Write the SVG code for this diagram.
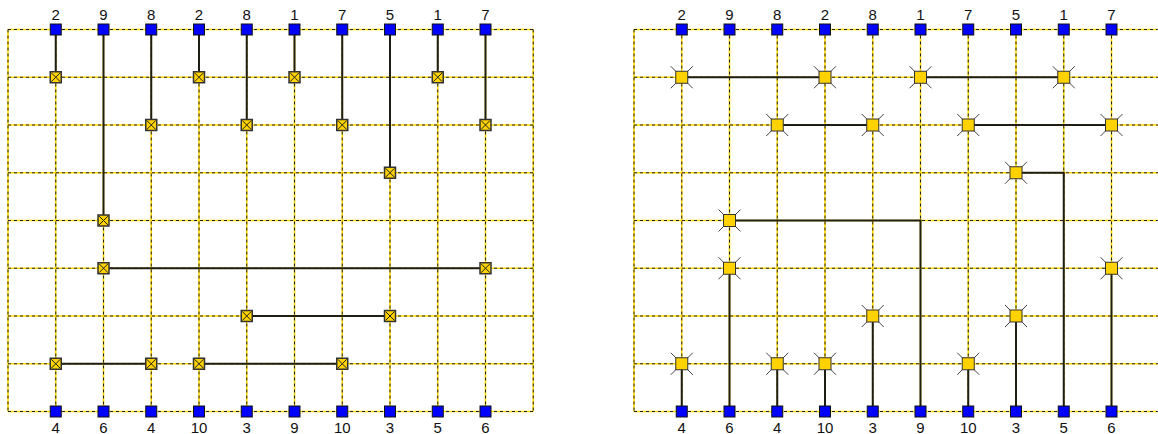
<svg xmlns="http://www.w3.org/2000/svg" xmlns:xlink="http://www.w3.org/1999/xlink" width="1158" height="434" viewBox="0 0 1158 434">
<style>
.gy{fill:none;stroke:#ffd700;stroke-width:1.6}
.gd{fill:none;stroke:#222;stroke-width:1;stroke-dasharray:3 3}
.w{fill:none;stroke:#1e1e14;stroke-width:2}
.pin{fill:#0000ff;stroke:#111;stroke-width:1}
.nb{fill:#ffd200;stroke:#333;stroke-width:1.5}
.nx{stroke:#222;stroke-width:1}
.ns{stroke:#444;stroke-width:1}
.lbl{font-family:"Liberation Sans",Arial,sans-serif;font-size:15px;fill:#111;text-anchor:middle}
</style>
<defs>
<path id="gridL" d="M8 29.5V411.5M55.75 29.5V411.5M103.5 29.5V411.5M151.25 29.5V411.5M199 29.5V411.5M246.75 29.5V411.5M294.5 29.5V411.5M342.25 29.5V411.5M390 29.5V411.5M437.75 29.5V411.5M485.5 29.5V411.5M533.25 29.5V411.5M8 29.5H533.25M8 77.25H533.25M8 125H533.25M8 172.75H533.25M8 220.5H533.25M8 268.25H533.25M8 316H533.25M8 363.75H533.25M8 411.5H533.25"/>
<g id="pin"><rect class="pin" x="-5.5" y="-5.5" width="11" height="11"/></g>
<g id="xn"><rect class="nb" x="-5.5" y="-5.5" width="11" height="11"/><path class="nx" d="M-4.5 -4.5L4.5 4.5M4.5 -4.5L-4.5 4.5"/></g>
<g id="sn"><path class="ns" d="M-11 -11L11 11M11 -11L-11 11"/><rect class="nb" x="-6" y="-6" width="12" height="12" style="stroke-width:1"/></g>
</defs>

<g id="grid">
<use xlink:href="#gridL" class="gy"/>
<use xlink:href="#gridL" class="gd"/>
<use xlink:href="#gridL" class="gy" transform="translate(626 0)"/>
<use xlink:href="#gridL" class="gd" transform="translate(626 0)"/>
</g>

<g id="connectors">
<path class="w" d="M55.75 29.5V77.25"/>
<path class="w" d="M103.5 29.5V220.5"/>
<path class="w" d="M151.25 29.5V125"/>
<path class="w" d="M199 29.5V77.25"/>
<path class="w" d="M246.75 29.5V125"/>
<path class="w" d="M294.5 29.5V77.25"/>
<path class="w" d="M342.25 29.5V125"/>
<path class="w" d="M390 29.5V172.75"/>
<path class="w" d="M437.75 29.5V77.25"/>
<path class="w" d="M485.5 29.5V125"/>
<path class="w" d="M103.5 268.25H485.5"/>
<path class="w" d="M246.75 316H390"/>
<path class="w" d="M55.75 363.75H151.25"/>
<path class="w" d="M199 363.75H342.25"/>
<path class="w" d="M681.75 77.25H825"/>
<path class="w" d="M920.5 77.25H1063.75"/>
<path class="w" d="M777.25 125H872.75"/>
<path class="w" d="M968.25 125H1111.5"/>
<path class="w" d="M1016 172.75H1063.75V411.5"/>
<path class="w" d="M729.5 220.5H920.5V411.5"/>
<path class="w" d="M729.5 268.25V411.5"/>
<path class="w" d="M1111.5 268.25V411.5"/>
<path class="w" d="M872.75 316V411.5"/>
<path class="w" d="M1016 316V411.5"/>
<path class="w" d="M681.75 363.75V411.5"/>
<path class="w" d="M777.25 363.75V411.5"/>
<path class="w" d="M825 363.75V411.5"/>
<path class="w" d="M968.25 363.75V411.5"/>
</g>

<g id="left-pins-top">
<use xlink:href="#pin" x="55.75" y="29.5"/><use xlink:href="#pin" x="103.5" y="29.5"/><use xlink:href="#pin" x="151.25" y="29.5"/><use xlink:href="#pin" x="199" y="29.5"/><use xlink:href="#pin" x="246.75" y="29.5"/><use xlink:href="#pin" x="294.5" y="29.5"/><use xlink:href="#pin" x="342.25" y="29.5"/><use xlink:href="#pin" x="390" y="29.5"/><use xlink:href="#pin" x="437.75" y="29.5"/><use xlink:href="#pin" x="485.5" y="29.5"/>
</g>
<g id="left-pins-bottom">
<use xlink:href="#pin" x="55.75" y="411.5"/><use xlink:href="#pin" x="103.5" y="411.5"/><use xlink:href="#pin" x="151.25" y="411.5"/><use xlink:href="#pin" x="199" y="411.5"/><use xlink:href="#pin" x="246.75" y="411.5"/><use xlink:href="#pin" x="294.5" y="411.5"/><use xlink:href="#pin" x="342.25" y="411.5"/><use xlink:href="#pin" x="390" y="411.5"/><use xlink:href="#pin" x="437.75" y="411.5"/><use xlink:href="#pin" x="485.5" y="411.5"/>
</g>
<g id="right-pins-top">
<use xlink:href="#pin" x="681.75" y="29.5"/><use xlink:href="#pin" x="729.5" y="29.5"/><use xlink:href="#pin" x="777.25" y="29.5"/><use xlink:href="#pin" x="825" y="29.5"/><use xlink:href="#pin" x="872.75" y="29.5"/><use xlink:href="#pin" x="920.5" y="29.5"/><use xlink:href="#pin" x="968.25" y="29.5"/><use xlink:href="#pin" x="1016" y="29.5"/><use xlink:href="#pin" x="1063.75" y="29.5"/><use xlink:href="#pin" x="1111.5" y="29.5"/>
</g>
<g id="right-pins-bottom">
<use xlink:href="#pin" x="681.75" y="411.5"/><use xlink:href="#pin" x="729.5" y="411.5"/><use xlink:href="#pin" x="777.25" y="411.5"/><use xlink:href="#pin" x="825" y="411.5"/><use xlink:href="#pin" x="872.75" y="411.5"/><use xlink:href="#pin" x="920.5" y="411.5"/><use xlink:href="#pin" x="968.25" y="411.5"/><use xlink:href="#pin" x="1016" y="411.5"/><use xlink:href="#pin" x="1063.75" y="411.5"/><use xlink:href="#pin" x="1111.5" y="411.5"/>
</g>

<g id="left-nodes">
<use xlink:href="#xn" x="55.75" y="77.25"/>
<use xlink:href="#xn" x="103.5" y="220.5"/>
<use xlink:href="#xn" x="151.25" y="125"/>
<use xlink:href="#xn" x="199" y="77.25"/>
<use xlink:href="#xn" x="246.75" y="125"/>
<use xlink:href="#xn" x="294.5" y="77.25"/>
<use xlink:href="#xn" x="342.25" y="125"/>
<use xlink:href="#xn" x="390" y="172.75"/>
<use xlink:href="#xn" x="437.75" y="77.25"/>
<use xlink:href="#xn" x="485.5" y="125"/>
<use xlink:href="#xn" x="103.5" y="268.25"/>
<use xlink:href="#xn" x="485.5" y="268.25"/>
<use xlink:href="#xn" x="246.75" y="316"/>
<use xlink:href="#xn" x="390" y="316"/>
<use xlink:href="#xn" x="55.75" y="363.75"/>
<use xlink:href="#xn" x="151.25" y="363.75"/>
<use xlink:href="#xn" x="199" y="363.75"/>
<use xlink:href="#xn" x="342.25" y="363.75"/>
</g>

<g id="right-nodes">
<use xlink:href="#sn" x="681.75" y="77.25"/>
<use xlink:href="#sn" x="825" y="77.25"/>
<use xlink:href="#sn" x="920.5" y="77.25"/>
<use xlink:href="#sn" x="1063.75" y="77.25"/>
<use xlink:href="#sn" x="777.25" y="125"/>
<use xlink:href="#sn" x="872.75" y="125"/>
<use xlink:href="#sn" x="968.25" y="125"/>
<use xlink:href="#sn" x="1111.5" y="125"/>
<use xlink:href="#sn" x="1016" y="172.75"/>
<use xlink:href="#sn" x="729.5" y="220.5"/>
<use xlink:href="#sn" x="729.5" y="268.25"/>
<use xlink:href="#sn" x="1111.5" y="268.25"/>
<use xlink:href="#sn" x="872.75" y="316"/>
<use xlink:href="#sn" x="1016" y="316"/>
<use xlink:href="#sn" x="681.75" y="363.75"/>
<use xlink:href="#sn" x="777.25" y="363.75"/>
<use xlink:href="#sn" x="825" y="363.75"/>
<use xlink:href="#sn" x="968.25" y="363.75"/>
</g>

<g id="labels">
<text class="lbl" x="55.75" y="20">2</text><text class="lbl" x="103.5" y="20">9</text><text class="lbl" x="151.25" y="20">8</text><text class="lbl" x="199" y="20">2</text><text class="lbl" x="246.75" y="20">8</text><text class="lbl" x="294.5" y="20">1</text><text class="lbl" x="342.25" y="20">7</text><text class="lbl" x="390" y="20">5</text><text class="lbl" x="437.75" y="20">1</text><text class="lbl" x="485.5" y="20">7</text>
<text class="lbl" x="55.75" y="433">4</text><text class="lbl" x="103.5" y="433">6</text><text class="lbl" x="151.25" y="433">4</text><text class="lbl" x="199" y="433">10</text><text class="lbl" x="246.75" y="433">3</text><text class="lbl" x="294.5" y="433">9</text><text class="lbl" x="342.25" y="433">10</text><text class="lbl" x="390" y="433">3</text><text class="lbl" x="437.75" y="433">5</text><text class="lbl" x="485.5" y="433">6</text>
<text class="lbl" x="681.75" y="20">2</text><text class="lbl" x="729.5" y="20">9</text><text class="lbl" x="777.25" y="20">8</text><text class="lbl" x="825" y="20">2</text><text class="lbl" x="872.75" y="20">8</text><text class="lbl" x="920.5" y="20">1</text><text class="lbl" x="968.25" y="20">7</text><text class="lbl" x="1016" y="20">5</text><text class="lbl" x="1063.75" y="20">1</text><text class="lbl" x="1111.5" y="20">7</text>
<text class="lbl" x="681.75" y="433">4</text><text class="lbl" x="729.5" y="433">6</text><text class="lbl" x="777.25" y="433">4</text><text class="lbl" x="825" y="433">10</text><text class="lbl" x="872.75" y="433">3</text><text class="lbl" x="920.5" y="433">9</text><text class="lbl" x="968.25" y="433">10</text><text class="lbl" x="1016" y="433">3</text><text class="lbl" x="1063.75" y="433">5</text><text class="lbl" x="1111.5" y="433">6</text>
</g>
</svg>
